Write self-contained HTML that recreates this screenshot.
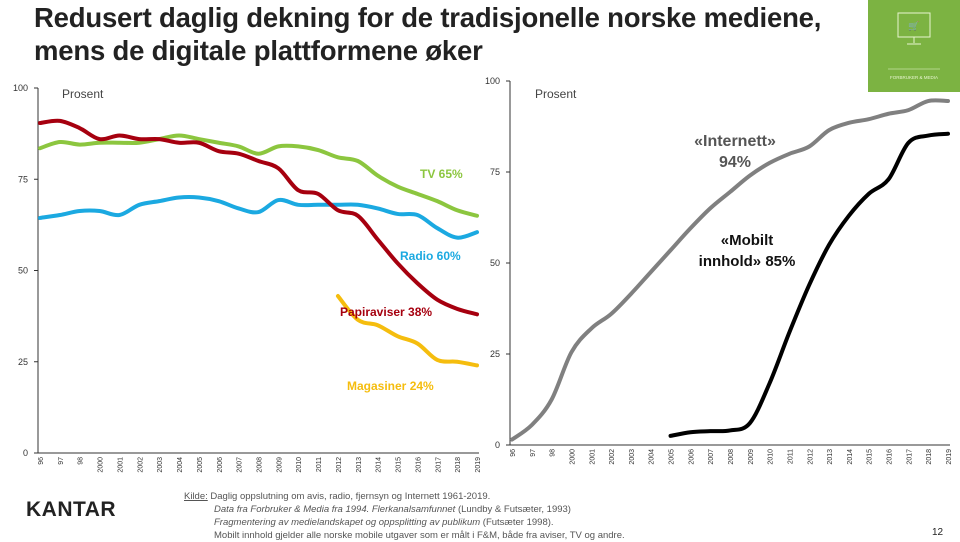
<!DOCTYPE html>
<html><head><meta charset="utf-8"><style>
body{margin:0;width:960px;height:540px;background:#fff;overflow:hidden;font-family:"Liberation Sans",sans-serif;position:relative}
.t{position:absolute;left:34px;top:1px;font-size:27.5px;font-weight:bold;color:#222;line-height:33px;letter-spacing:-0.2px}
.logo{position:absolute;left:868px;top:0;width:92px;height:92px;background:#7cb342}
.k{position:absolute;left:26px;top:498px;font-size:21px;font-weight:bold;color:#222;letter-spacing:0.5px}
.src{position:absolute;left:184px;top:490px;font-size:9.5px;color:#555;line-height:13px}
.pg{position:absolute;left:932px;top:527px;font-size:10px;color:#222}
</style></head><body>
<div class="t">Redusert daglig dekning for de tradisjonelle norske mediene,<br>mens de digitale plattformene øker</div>
<div class="logo">
<svg width="92" height="92"><rect x="30" y="13" width="32" height="24" fill="none" stroke="#e8f5d0" stroke-width="1"/><line x1="46" y1="37" x2="46" y2="43" stroke="#e8f5d0"/><line x1="39" y1="44" x2="53" y2="44" stroke="#e8f5d0"/><text x="46" y="29" font-size="9" fill="#e8f5d0" text-anchor="middle">🛒</text><line x1="20" y1="69" x2="72" y2="69" stroke="#e8f5d0" stroke-width="0.6"/><text x="46" y="79" font-size="4.5" fill="#e8f5d0" text-anchor="middle" font-family="Liberation Sans">FORBRUKER &amp; MEDIA</text></svg></div>
<svg id="c" width="960" height="540" style="position:absolute;left:0;top:0"></svg>
<div class="k">KANTAR</div>
<div class="src"><u>Kilde:</u> Daglig oppslutning om avis, radio, fjernsyn og Internett 1961-2019.<br>
<span style="padding-left:30px"><i>Data fra Forbruker &amp; Media fra 1994. Flerkanalsamfunnet</i> (Lundby &amp; Futsæter, 1993)</span><br>
<span style="padding-left:30px"><i>Fragmentering av medielandskapet og oppsplitting av publikum</i> (Futsæter 1998).</span><br>
<span style="padding-left:30px">Mobilt innhold gjelder alle norske mobile utgaver som er målt i F&amp;M, både fra aviser, TV og andre.</span></div>
<div class="pg">12</div>
<script>
const years=["96","97","98","2000","2001","2002","2003","2004","2005","2006","2007","2008","2009","2010","2011","2012","2013","2014","2015","2016","2017","2018","2019"];
const yTicks=[0,25,50,75,100];
const tv=[83.5,85.2,84.5,85,85,85,86,87,86,85,84,82,84,84,83,81,80,76,73,71,69,66.5,65];
const radio=[64.4,65.2,66.3,66.3,65.2,68,69,70,70,69,67,66,69.3,68,68,68,68,67,65.5,65.2,61.6,59,60.5];
const papir=[90.4,91,89,86,87,86,86,85,85,82.7,82,80,78,72,71,66.5,65,58.5,52,46.5,42,39.5,38];
const magasin=[null,null,null,null,null,null,null,null,null,null,null,null,null,null,null,43,36.5,35,32,30,25.5,25,24];
const internett=[1.5,5.5,12.5,25.5,32,36,41.5,47.5,53.5,59.5,65,69.5,74,77.5,80,82,86.5,88.5,89.5,91,92,94.5,94.5];
const mobil=[null,null,null,null,null,null,null,null,2.5,3.5,3.8,4,6,17,31,44,55,63,69,73,83,85,85.5];
const svg=document.getElementById('c');const NS='http://www.w3.org/2000/svg';
function mk(t,a,txt){const e=document.createElementNS(NS,t);for(const k in a)e.setAttribute(k,a[k]);if(txt!=null)e.textContent=txt;svg.appendChild(e);return e;}
function panel(x0,x1,y0,y100,series,name){
 const xs=i=>x0+2+i*(x1-x0-2)/(years.length-1);const ys=v=>y0-v*(y0-y100)/100;
 let ax=mk('line',{x1:x0,y1:y100,x2:x0,y2:y0,stroke:'#333','stroke-width':1});
 
 let bx=mk('line',{x1:x0,y1:y0,x2:x1+2,y2:y0,stroke:'#333','stroke-width':1});
 
 yTicks.forEach(t=>{mk('line',{x1:x0-4,y1:ys(t),x2:x0,y2:ys(t),stroke:'#333'});
  const e=mk('text',{x:x0-10,y:ys(t)+3,'font-size':9,'text-anchor':'end',fill:'#333'},t);
  });
 years.forEach((y,i)=>{const x=xs(i);const e=mk('text',{x:0,y:0,'font-size':7,fill:'#333','text-anchor':'end',transform:`translate(${x+3},${y0+4}) rotate(-90)`},y);
  });
 series.forEach(s=>{let d='';let pts=[];s.data.forEach((v,i)=>{if(v!=null)pts.push([xs(i),ys(v)]);});
  d='M'+pts[0][0]+','+pts[0][1];
  for(let i=1;i<pts.length;i++){const p0=pts[i-2]||pts[i-1],p1=pts[i-1],p2=pts[i],p3=pts[i+1]||p2;
   d+=` C${p1[0]+(p2[0]-p0[0])/6},${p1[1]+(p2[1]-p0[1])/6} ${p2[0]-(p3[0]-p1[0])/6},${p2[1]-(p3[1]-p1[1])/6} ${p2[0]},${p2[1]}`;}
  const e=mk('path',{d:d,fill:'none',stroke:s.c,'stroke-width':4,'stroke-linejoin':'round','stroke-linecap':'round'});
  });
}
panel(38,477,453,88,[{data:tv,c:'#8cc63f',n:'tv-line'},{data:radio,c:'#1ba9e1',n:'radio-line'},{data:papir,c:'#a6000f',n:'papiraviser-line'},{data:magasin,c:'#f5bd0e',n:'magasiner-line'}],'left');
panel(510,948,445,81,[{data:internett,c:'#808080',n:'internett-line'},{data:mobil,c:'#000',n:'mobil-line'}],'right');
const labels=[[62,98,'Prosent','#444',12,'normal',''],[535,98,'Prosent','#444',12,'normal',''],[420,178,'TV 65%','#8cc63f',12,'bold',''],[400,260,'Radio 60%','#1ba9e1',12,'bold',''],[340,316,'Papiraviser 38%','#a6000f',12,'bold',''],[347,390,'Magasiner 24%','#f5bd0e',12,'bold',''],[735,146,'«Internett»','#555',16,'bold','m'],[735,167,'94%','#555',16,'bold','m'],[747,245,'«Mobilt','#111',15,'bold','m'],[747,266,'innhold» 85%','#111',15,'bold','m']];
labels.forEach(l=>{const e=mk('text',{x:l[0],y:l[1],fill:l[3],'font-size':l[4],'font-weight':l[5],'text-anchor':l[6]=='m'?'middle':'start'},l[2]);
 });
</script>
</body></html>
